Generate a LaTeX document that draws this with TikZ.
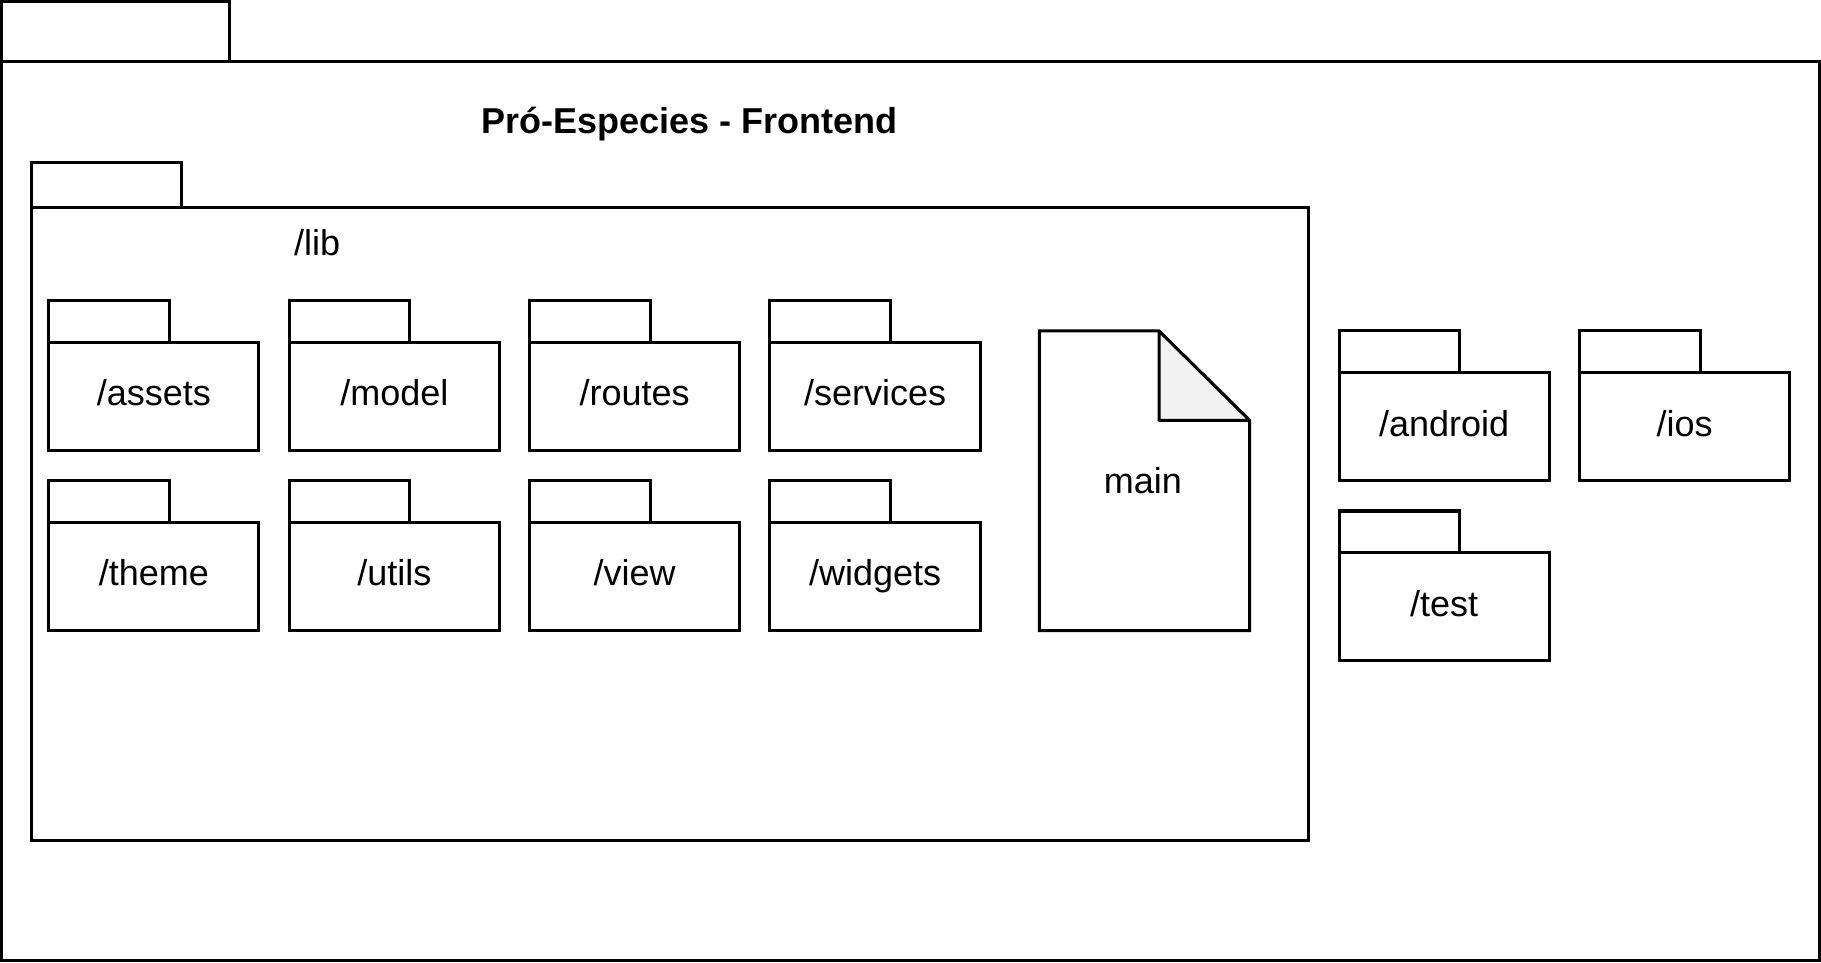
\documentclass[tikz,border=0pt]{standalone}
\usepackage{fontspec}
\setmainfont{Liberation Sans}
\usetikzlibrary{positioning}
\newcommand{\lbl}{\fontsize{31}{37}\selectfont}
\tikzset{
  folder/.style={draw, line width=2.6, minimum width=181, minimum height=93, inner sep=0, outer sep=0,
    text height=22.6, text depth=6.5, font=\lbl},
  tab/.style={draw, line width=2.6, minimum width=104, minimum height=36, inner sep=0, outer sep=0, anchor=south west},
  pkg/.style={draw, line width=2.6, inner sep=0, outer sep=0, anchor=north west},
}
\begin{document}
\begin{tikzpicture}[x=1pt, y=-1pt]
  \useasboundingbox (0,0) rectangle (1568,829);
  % outer package
  \node[pkg, minimum width=1565, minimum height=774] (front) at (1.3,53) {};
  \node[pkg, anchor=south west, minimum width=196, minimum height=52] (fronttab) at (front.north west) {};
  \node[font=\lbl\bfseries] (title) at (594,107) {Pró-Especies - Frontend};
  % lib package
  \node[pkg, minimum width=1100, minimum height=545] (lib) at (27,179) {};
  \node[pkg, anchor=south west, minimum width=129, minimum height=39] (libtab) at (lib.north west) {};
  \node[font=\lbl] (libname) at (273,209) {/lib};
  % folders in lib
  \node[folder] (assets) at (132.5,341.5) {/assets};
  \node[folder, right=26pt of assets] (model) {/model};
  \node[folder, right=26pt of model] (routes) {/routes};
  \node[folder, right=26pt of routes] (services) {/services};
  \node[folder, below=62pt of assets] (theme) {/theme};
  \node[folder, right=26pt of theme] (utils) {/utils};
  \node[folder, right=26pt of utils] (view) {/view};
  \node[folder, right=26pt of view] (widgets) {/widgets};
  % main file
  \node[font=\lbl] (main) at (984,414) {main};
  \draw[line width=2.6] (895,285) -- (998,285) -- (1076,362) -- (1076,543) -- (895,543) -- cycle;
  \draw[line width=2.6, line join=bevel, fill=black!5] (998,285) -- (1076,362) -- (998,362) -- cycle;
  % folders outside lib
  \node[folder] (android) at (1243.5,367.5) {/android};
  \node[folder, right=26pt of android] (ios) {/ios};
  \node[folder, below=62pt of android] (test) {/test};
  \foreach \n in {assets,model,routes,services,theme,utils,view,widgets,android,ios,test}
    \node[tab] (\n-tab) at (\n.north west) {};
\end{tikzpicture}
\end{document}
